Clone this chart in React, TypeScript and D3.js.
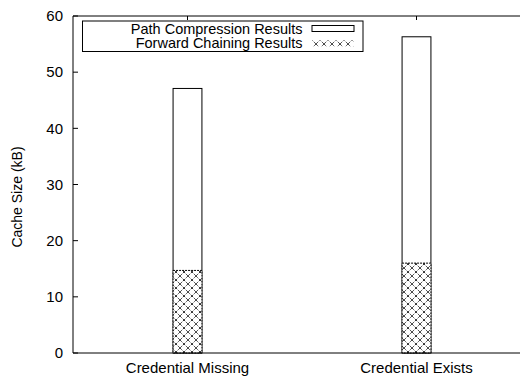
import React from 'react';
import * as d3 from 'd3';

const categories = ['Credential Missing', 'Credential Exists'];
const pathCompression = [47.1, 56.3];
const forwardChaining = [14.7, 16.0];
const yTicks = [0, 10, 20, 30, 40, 50, 60];
const legendLabels = ['Path Compression Results', 'Forward Chaining Results'];

const W = 520;
const H = 376;
const margin = { top: 16, left: 73, bottom: 353 };
const font = '"Liberation Sans", Arial, sans-serif';

const App = () => {
    // x: category index, gnuplot-style range [-0.5, 1.5]
    const x = d3.scaleLinear().domain([-0.5, 1.5]).range([margin.left, 531]);
    const y = d3.scaleLinear().domain([0, 60]).range([margin.bottom, margin.top]);
    const halfW = 0.063;

    return (
        <div style={{ position: 'fixed', left: 0, top: 0 }}>
            <svg width={W} height={H} style={{ display: 'block', background: '#fff' }}>
                <defs>
                    <pattern id="xhatch" width="8" height="8" patternUnits="userSpaceOnUse">
                        <rect width="8" height="8" fill="#fff" />
                        <path d="M0,0 L8,8 M8,0 L0,8" stroke="#000" strokeWidth="0.8" strokeDasharray="1.5,1" />
                        <rect x="3.3" y="3.3" width="1.4" height="1.4" fill="#000" />
                    </pattern>
                </defs>

                {/* bars */}
                {categories.map((c, i) => (
                    <g key={c}>
                        <rect
                            x={x(i - halfW)} y={y(pathCompression[i])}
                            width={x(i + halfW) - x(i - halfW)}
                            height={y(0) - y(pathCompression[i])}
                            fill="#fff" stroke="#000" strokeWidth={1}
                        />
                        <rect
                            x={x(i - halfW)} y={y(forwardChaining[i])}
                            width={x(i + halfW) - x(i - halfW)}
                            height={y(0) - y(forwardChaining[i])}
                            fill="url(#xhatch)" stroke="#000" strokeWidth={1} strokeDasharray="2,1"
                        />
                    </g>
                ))}

                {/* border */}
                <line x1={margin.left} x2={margin.left} y1={margin.top} y2={margin.bottom} stroke="#000" />
                <line x1={margin.left} x2={W} y1={margin.top} y2={margin.top} stroke="#000" />
                <line x1={margin.left} x2={W} y1={margin.bottom} y2={margin.bottom} stroke="#000" />

                {/* y ticks */}
                {yTicks.map(t => (
                    <g key={t}>
                        <line x1={margin.left} x2={margin.left + 5} y1={y(t)} y2={y(t)} stroke="#000" />
                        <text x={63} y={y(t)} dy="0.35em" textAnchor="end"
                            fontFamily={font} fontSize={15}>{t}</text>
                    </g>
                ))}

                {/* x ticks */}
                {categories.map((c, i) => (
                    <g key={c}>
                        <line x1={x(i)} x2={x(i)} y1={margin.top} y2={margin.top + 4} stroke="#000" />
                        <text x={x(i)} y={373} textAnchor="middle" fontFamily={font} fontSize={15}>{c}</text>
                    </g>
                ))}

                <text transform="translate(22,197) rotate(-90)"
                    textAnchor="middle" fontFamily={font} fontSize={14}>Cache Size (kB)</text>

                {/* legend */}
                <rect x={82.5} y={21} width={280.5} height={30.5} fill="#fff" stroke="#000" />
                {legendLabels.map((l, i) => (
                    <g key={l}>
                        <text x={302.5} y={33.5 + i * 14.5} textAnchor="end" fontFamily={font} fontSize={14.5}>{l}</text>
                        <rect x={312} y={25.5 + i * 15} width={42} height={6}
                            fill={i === 0 ? '#fff' : 'url(#xhatch)'} stroke="#000" strokeWidth={i === 0 ? 1 : 0} />
                    </g>
                ))}
            </svg>
        </div>
    );
};

export default App;
